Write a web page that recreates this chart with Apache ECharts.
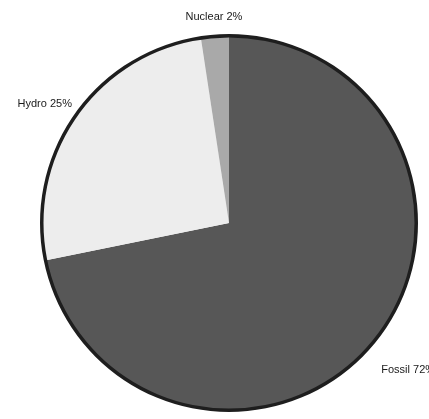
<!DOCTYPE html>
<html>
<head>
<meta charset="utf-8">
<script src="https://cdn.jsdelivr.net/npm/echarts@6/dist/echarts.min.js"></script>
<style>
  html, body { margin: 0; padding: 0; background: #fff; }
  #chart { width: 429px; height: 419px; }
</style>
</head>
<body>
<div id="chart"></div>
<script>
// shares (angles), labels as printed
var sources = ['Fossil', 'Hydro', 'Nuclear']
var shares = [71.8, 25.8, 2.4]
var printed = [72, 25, 2]
var colors = ['#575757', '#ededed', '#a9a9a9']
// nudges so the labels sit where the original put them
var nudge = [[-3, 24], [7, -8], [33, -13]]

var chart = echarts.init(document.getElementById('chart'), null, {renderer: 'canvas'})

var data = sources.map(function (name, i) {
    return {name: name, value: shares[i], itemStyle: {color: colors[i]}}
})

var option = {
    animation: false,
    series: [{
        type: 'pie',
        center: [229, 223],
        radius: [0, 188],
        startAngle: 90,
        clockwise: true,
        data: data,
        label: {
            show: true,
            position: 'outside',
            overflow: 'none',
            fontFamily: 'Liberation Sans, Arial, sans-serif',
            fontSize: 11,
            color: '#1a1a1a',
            formatter: function (p) {
                return p.name + ' ' + printed[p.dataIndex] + '%'
            }
        },
        labelLine: {show: false, length: 6, length2: 0},
        labelLayout: function (p) {
            return {dx: nudge[p.dataIndex][0], dy: nudge[p.dataIndex][1]}
        },
        emphasis: {disabled: true}
    }, {
        // dark outline round the disc
        type: 'pie',
        center: [229, 223],
        radius: [185.5, 189],
        silent: true,
        label: {show: false},
        labelLine: {show: false},
        data: [{value: 1, itemStyle: {color: '#1e1e1e'}}]
    }]
}

chart.setOption(option)
</script>
</body>
</html>
